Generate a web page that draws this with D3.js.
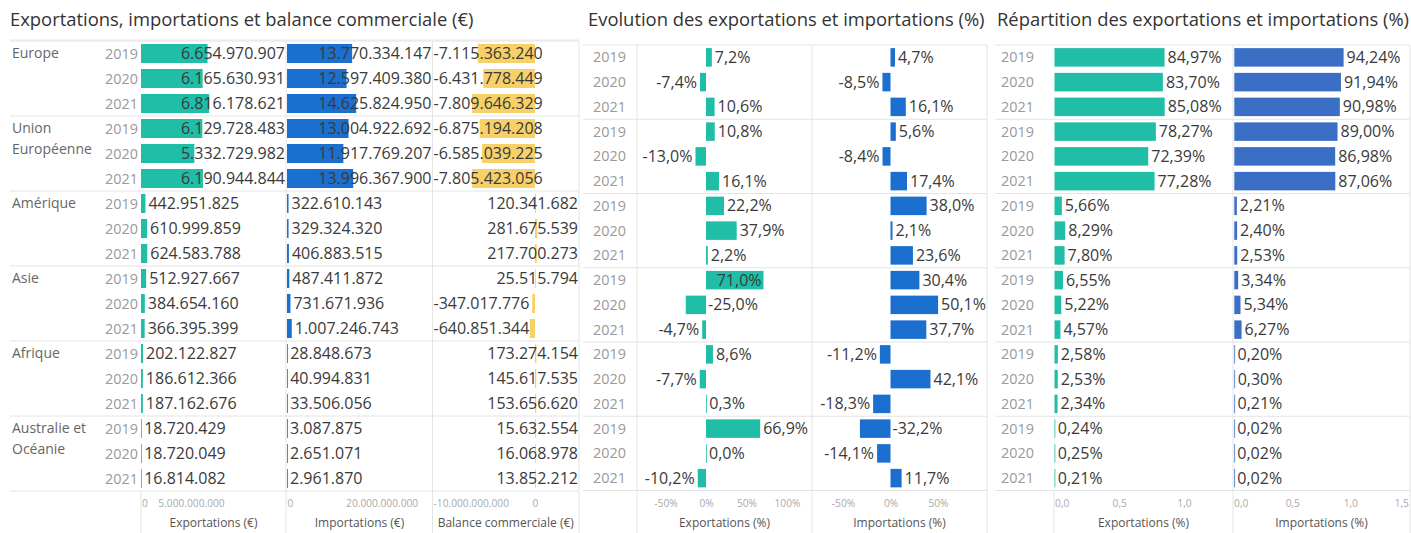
<!DOCTYPE html>
<html>
<head>
<meta charset="utf-8">
<script src="https://cdn.jsdelivr.net/npm/d3@7"></script>
<style>
  body { margin: 0; background: #fff; }
  svg { font-family: "Open Sans", sans-serif; display: block; }
</style>
</head>
<body>
<script>
// regions and years (rows of the table)
var regions = ["Europe", "Union Européenne", "Amérique", "Asie", "Afrique", "Australie et Océanie"]
var years = ["2019", "2020", "2021"]

// values in euros, one line per region, years 2019 / 2020 / 2021
var exportations = [
  [6654970907, 6165630931, 6816178621],
  [6129728483, 5332729982, 6190944844],
  [442951825, 610999859, 624583788],
  [512927667, 384654160, 366395399],
  [202122827, 186612366, 187162676],
  [18720429, 18720049, 16814082]
]
var importations = [
  [13770334147, 12597409380, 14625824950],
  [13004922692, 11917769207, 13996367900],
  [322610143, 329324320, 406883515],
  [487411872, 731671936, 1007246743],
  [28848673, 40994831, 33506056],
  [3087875, 2651071, 2961870]
]
var balance = [
  [-7115363240, -6431778449, -7809646329],
  [-6875194208, -6585039225, -7805423056],
  [120341682, 281675539, 217700273],
  [25515794, -347017776, -640851344],
  [173274154, 145617535, 153656620],
  [15632554, 16068978, 13852212]
]

// evolution (%)
var evolExport = [
  [7.2, -7.4, 10.6],
  [10.8, -13.0, 16.1],
  [22.2, 37.9, 2.2],
  [71.0, -25.0, -4.7],
  [8.6, -7.7, 0.3],
  [66.9, 0.0, -10.2]
]
var evolImport = [
  [4.7, -8.5, 16.1],
  [5.6, -8.4, 17.4],
  [38.0, 2.1, 23.6],
  [30.4, 50.1, 37.7],
  [-11.2, 42.1, -18.3],
  [-32.2, -14.1, 11.7]
]

// repartition (%)
var repartExport = [
  [84.97, 83.70, 85.08],
  [78.27, 72.39, 77.28],
  [5.66, 8.29, 7.80],
  [6.55, 5.22, 4.57],
  [2.58, 2.53, 2.34],
  [0.24, 0.25, 0.21]
]
var repartImport = [
  [94.24, 91.94, 90.98],
  [89.00, 86.98, 87.06],
  [2.21, 2.40, 2.53],
  [3.34, 5.34, 6.27],
  [0.20, 0.30, 0.21],
  [0.02, 0.02, 0.02]
]

// axis ticks
var ticksEur = { exp: [0, 5e9], imp: [0, 20e9], bal: [-10e9, 0] }
var ticksEvol = { exp: [-50, 0, 50, 100], imp: [-50, 0, 50] }
var ticksRep = { exp: [0, 0.5, 1.0], imp: [0, 0.5, 1.0, 1.5] }

var teal = "#20bda7", blue = "#1b6fcf", blue2 = "#3b6fc6", gold = "#f7d067"
var gridColor = "#e4e4e4"

var loc = d3.formatLocale({ decimal: ",", thousands: ".", grouping: [3], currency: ["", "€"], minus: "-" })
var fmtEur = loc.format(",d")
var fmtPct1 = function(v) { return loc.format(".1f")(v) + "%" }
var fmtPct2 = function(v) { return loc.format(".2f")(v) + "%" }

var W = 1411, H = 533
var svg = d3.select("body").append("svg").attr("width", W).attr("height", H)

var flat = function(a) { return a.reduce(function(acc, r) { return acc.concat(r) }, []) }

function drawTitle(x, text) {
  svg.append("text").attr("x", x).attr("y", 20).attr("dy", "0.35em")
    .attr("font-size", 18.4).attr("fill", "#333").text(text)
}

function wrapWords(name, maxW, size) {
  var words = name.split(" "), lines = [], cur = ""
  var tmp = svg.append("text").attr("font-size", size)
  words.forEach(function(w) {
    var test = cur ? cur + " " + w : w
    tmp.text(test)
    if (tmp.node().getComputedTextLength() > maxW && cur) { lines.push(cur); cur = w } else cur = test
  })
  lines.push(cur)
  tmp.remove()
  return lines
}

// rows: region labels, year labels, separators
function drawRows(p) {
  var g = svg.append("g")
  regions.forEach(function(name, i) {
    var yTop = p.top + i * 3 * p.rowH
    if (p.regionX != null) {
      var lines = wrapWords(name, 90, 14)
      lines.forEach(function(l, k) {
        g.append("text").attr("x", p.regionX).attr("y", yTop + p.rowH / 2 + k * 21).attr("dy", "0.35em")
          .attr("font-size", 14).attr("fill", "#666").text(l)
      })
    }
    years.forEach(function(yr, j) {
      g.append("text").attr("x", p.yearX).attr("y", yTop + (j + 0.5) * p.rowH).attr("dy", "0.35em")
        .attr("font-size", 14.4).attr("fill", "#9a9a9a").text(yr)
    })
    g.append("line").attr("x1", p.x0).attr("x2", p.x1)
      .attr("y1", yTop).attr("y2", yTop).attr("stroke", gridColor)
  })
  var yBot = p.top + 18 * p.rowH
  g.append("line").attr("x1", p.x0).attr("x2", p.x1)
    .attr("y1", yBot).attr("y2", yBot).attr("stroke", gridColor)
}

// one bar column (pane)
function drawPane(p, pane) {
  var g = svg.append("g")
  var vals = flat(pane.values)
  var x = pane.scale
  g.append("line").attr("x1", pane.x1).attr("x2", pane.x1).attr("y1", p.top).attr("y2", H)
    .attr("stroke", gridColor)
  if (pane.leftLine) {
    g.append("line").attr("x1", pane.x0).attr("x2", pane.x0).attr("y1", pane.leftLine).attr("y2", H)
      .attr("stroke", gridColor)
  }
  vals.forEach(function(v, i) {
    var y = p.top + i * p.rowH
    var z = x(0), e = x(v)
    g.append("rect").attr("x", Math.min(z, e)).attr("y", y + (p.rowH - p.barH) / 2)
      .attr("width", Math.max(Math.abs(e - z), 0.8)).attr("height", p.barH).attr("fill", pane.color)
    var t = g.append("text").attr("y", y + p.rowH / 2).attr("dy", "0.35em")
      .attr("font-size", 16).attr("fill", "#3a3a3a").text(pane.fmt(v))
    var w = t.node().getComputedTextLength()
    var tx
    if (v >= 0) {
      tx = Math.max(z, e) + 3
      if (tx + w > pane.x1 - 1) tx = p.mode === "clamp" ? pane.x1 - 1 - w : e - 2 - w
    } else {
      tx = e - 3 - w
      if (tx < pane.x0 + 1) tx = p.mode === "clamp" ? pane.x0 + 1 : z + 2
    }
    t.attr("x", tx)
  })
  // axis
  var ax = g.append("g").attr("transform", "translate(0," + 503 + ")")
    .call(d3.axisBottom(x).tickValues(pane.ticks).tickFormat(pane.tickFmt).tickSize(0).tickPadding(0))
  ax.select(".domain").remove()
  ax.selectAll("text").attr("font-size", 10.2).attr("fill", "#aaa").attr("dy", "0.35em")
    .attr("font-family", "Open Sans, sans-serif")
  ax.selectAll(".tick").each(function() {
    var tk = d3.select(this), txt = tk.select("text")
    var b = this.getBBox()
    var m = tk.attr("transform").match(/translate\(([-\d.]+)/)
    var cx = +m[1]
    var left = cx - b.width / 2, right = cx + b.width / 2
    if (left < pane.x0 + 1) txt.attr("x", pane.x0 + 1 - left)
    else if (right > pane.x1 - 1) txt.attr("x", pane.x1 - 1 - right)
  })
  g.append("text").attr("x", (pane.x0 + pane.x1) / 2).attr("y", 523).attr("dy", "0.35em")
    .attr("text-anchor", "middle").attr("font-size", 12).attr("fill", "#555").text(pane.title)
}

// panel 1 : euros
drawTitle(10, "Exportations, importations et balance commerciale (€)")
var p1 = { top: 41, rowH: 25, barH: 19, regionX: 12, yearX: 105, x0: 10, x1: 579, mode: "clamp" }
drawRows(p1)
svg.append("line").attr("x1", 10).attr("x2", 579).attr("y1", 40).attr("y2", 40).attr("stroke", gridColor)
drawPane(p1, { x0: 141, x1: 286, leftLine: 491, color: teal, values: exportations, fmt: fmtEur,
  scale: d3.scaleLinear().domain([0, 5e9]).range([141, 191]),
  ticks: ticksEur.exp, tickFmt: fmtEur, title: "Exportations (€)" })
drawPane(p1, { x0: 286.5, x1: 432.5, color: blue, values: importations, fmt: fmtEur,
  scale: d3.scaleLinear().domain([0, 20e9]).range([287, 381.6]),
  ticks: ticksEur.imp, tickFmt: fmtEur, title: "Importations (€)" })
drawPane(p1, { x0: 432.5, x1: 579, color: gold, values: balance, fmt: fmtEur,
  scale: d3.scaleLinear().domain([-10e9, 0]).range([454.5, 535]),
  ticks: ticksEur.bal, tickFmt: fmtEur, title: "Balance commerciale (€)" })

// panel 2 : evolution
drawTitle(588, "Evolution des exportations et importations (%)")
var p2 = { top: 45, rowH: 24.75, barH: 18.5, yearX: 593, x0: 583, x1: 987, mode: "flip" }
drawRows(p2)
drawPane(p2, { x0: 637, x1: 812, leftLine: 45, color: teal, values: evolExport, fmt: fmtPct1,
  scale: d3.scaleLinear().domain([-50, 100]).range([665.5, 787]),
  ticks: ticksEvol.exp, tickFmt: function(d) { return loc.format("d")(d) + "%" }, title: "Exportations (%)" })
drawPane(p2, { x0: 812, x1: 987, color: blue, values: evolImport, fmt: fmtPct1,
  scale: d3.scaleLinear().domain([-50, 50]).range([843, 938]),
  ticks: ticksEvol.imp, tickFmt: function(d) { return loc.format("d")(d) + "%" }, title: "Importations (%)" })

// panel 3 : repartition
drawTitle(997, "Répartition des exportations et importations (%)")
var p3 = { top: 45, rowH: 24.75, barH: 18.5, yearX: 1001, x0: 995, x1: 1410, mode: "flip" }
drawRows(p3)
drawPane(p3, { x0: 1054, x1: 1233, leftLine: 491, color: teal, values: repartExport.map(function(r) { return r.map(function(v) { return v / 100 }) }),
  fmt: function(v) { return fmtPct2(v * 100) },
  scale: d3.scaleLinear().domain([0, 1]).range([1054.5, 1184]),
  ticks: ticksRep.exp, tickFmt: loc.format(".1f"), title: "Exportations (%)" })
drawPane(p3, { x0: 1233, x1: 1410, color: blue2, values: repartImport.map(function(r) { return r.map(function(v) { return v / 100 }) }),
  fmt: function(v) { return fmtPct2(v * 100) },
  scale: d3.scaleLinear().domain([0, 1.5]).range([1234.3, 1408.3]),
  ticks: ticksRep.imp, tickFmt: loc.format(".1f"), title: "Importations (%)" })
</script>
</body>
</html>
